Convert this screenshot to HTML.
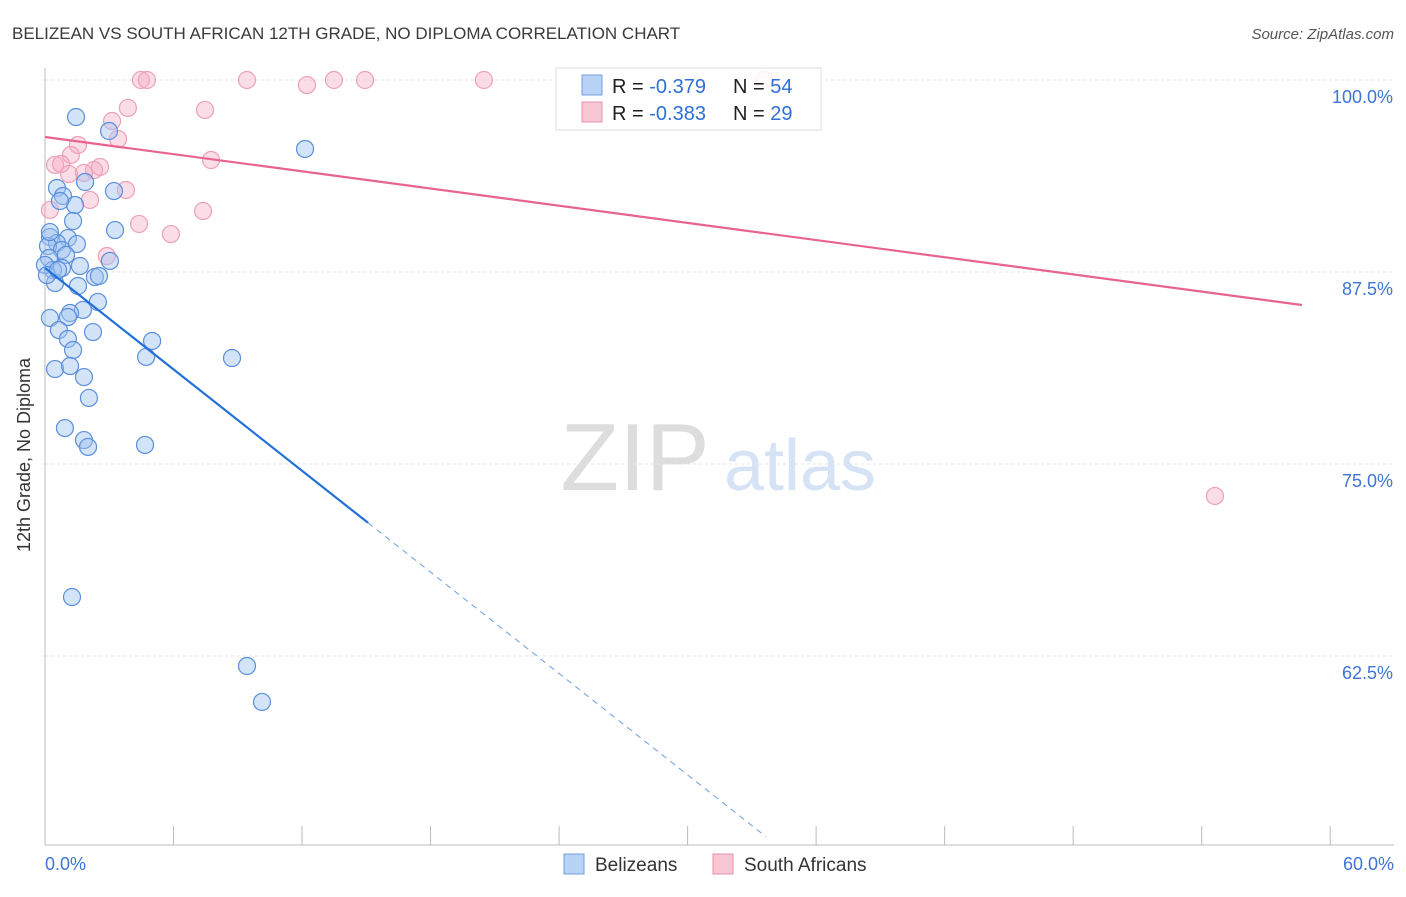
<!DOCTYPE html>
<html><head><meta charset="utf-8"><style>
body{margin:0;background:#fff;font-family:"Liberation Sans",sans-serif;}
svg text{font-family:"Liberation Sans",sans-serif;}
</style></head><body>
<svg id="chart" width="1406" height="892" xmlns="http://www.w3.org/2000/svg">
<text x="12" y="39" font-size="17" fill="#3a3a3a">BELIZEAN VS SOUTH AFRICAN 12TH GRADE, NO DIPLOMA CORRELATION CHART</text>
<text x="1394" y="39" font-size="15" fill="#555" font-style="italic" text-anchor="end">Source: ZipAtlas.com</text>
<text x="30" y="455" font-size="18" fill="#333" text-anchor="middle" transform="rotate(-90 30 455)">12th Grade, No Diploma</text>
<g>
<text x="635" y="490" font-size="96" fill="#ddd" font-family="Liberation Serif" text-anchor="middle">ZIP</text>
<text x="800" y="490" font-size="72" fill="#d6e3f5" text-anchor="middle">atlas</text>
</g>
<g id="grid"></g><g id="axes"></g><g id="pts"></g><g id="lines"></g>
<g>
<rect x="556" y="68" width="265" height="62" fill="rgba(255,255,255,0.85)" stroke="#ddd"/>
<rect x="582" y="75" width="20" height="20" fill="#b8d3f5" stroke="#6f9fe0"/>
<text x="612" y="93" font-size="20" fill="#222">R = <tspan fill="#2f6fd6">-0.379</tspan></text>
<text x="733" y="93" font-size="20" fill="#222">N = <tspan fill="#2f6fd6">54</tspan></text>
<rect x="582" y="102" width="20" height="20" fill="#f9c6d4" stroke="#ec8fab"/>
<text x="612" y="120" font-size="20" fill="#222">R = <tspan fill="#2f6fd6">-0.383</tspan></text>
<text x="733" y="120" font-size="20" fill="#222">N = <tspan fill="#2f6fd6">29</tspan></text>
</g>
<g>
<rect x="564" y="854" width="20" height="20" fill="#b8d3f5" stroke="#6f9fe0"/>
<text x="595" y="871" font-size="19" fill="#333">Belizeans</text>
<rect x="713" y="854" width="20" height="20" fill="#f9c6d4" stroke="#ec8fab"/>
<text x="744" y="871" font-size="19" fill="#333">South Africans</text>
</g>
</svg>
<script>
const blueX=[1.45,2.99,12.14,0.56,1.87,3.22,0.84,1.40,0.70,1.31,3.27,0.23,1.07,1.49,0.56,0.14,0.79,0.98,0.19,3.03,1.63,0.79,0.37,2.33,2.52,0.47,1.54,2.47,1.77,1.17,1.07,0.23,0.65,2.24,5.00,1.07,1.31,4.72,8.73,0.47,1.17,1.82,2.05,0.93,1.82,2.01,4.67,1.26,9.43,10.13,0.00,0.09,0.23,0.61];
const blueY=[97.59,96.68,95.51,92.97,93.36,92.77,92.45,91.86,92.12,90.82,90.23,89.78,89.71,89.32,89.39,89.19,88.93,88.61,88.41,88.22,87.89,87.76,87.63,87.17,87.24,86.78,86.59,85.55,85.03,84.83,84.57,84.51,83.72,83.59,83.01,83.14,82.42,81.97,81.90,81.18,81.38,80.66,79.30,77.34,76.56,76.11,76.24,66.34,61.85,59.51,87.96,87.30,90.10,87.63];
const pinkX=[4.48,4.76,9.43,13.49,14.94,20.49,12.23,33.57,3.87,7.47,3.13,3.41,1.54,1.21,0.47,0.75,7.75,2.57,2.29,1.12,1.82,3.78,2.10,7.38,4.39,5.88,2.89,54.62,0.23];
const pinkY=[100,100,100,100,100,100,99.67,100,98.18,98.05,97.33,96.16,95.77,95.12,94.47,94.53,94.79,94.34,94.14,93.88,93.95,92.84,92.19,91.47,90.63,89.97,88.54,72.92,91.54];
const yTicks=[100,87.5,75,62.5];
const yTickLabels=["100.0%","87.5%","75.0%","62.5%"];
const xTickLabels=["0.0%","60.0%"];
const blueTrend=[87.76,-1.10];
const pinkTrend=[96.29,-0.1864];
const X=v=>45+v*21.42, Y=v=>80+(100-v)*15.36;
const NS="http://www.w3.org/2000/svg";
function mk(p,t,a){const e=document.createElementNS(NS,t);for(const k in a)e.setAttribute(k,a[k]);document.getElementById(p).appendChild(e);return e;}
yTicks.forEach((t,i)=>{
 const g=mk('grid','line',{x1:45,x2:1394,y1:Y(t),y2:Y(t),stroke:'#e6e6e6','stroke-dasharray':'3 3'});
 
 
 const l=mk('axes','text',{x:1393,y:Y(t)+23,'font-size':18,fill:'#3d74d6','text-anchor':'end'});l.textContent=yTickLabels[i];
 
 
});
let ax=mk('axes','line',{x1:45,x2:45,y1:68,y2:845,stroke:'#bbb'});


ax=mk('axes','line',{x1:45,x2:1394,y1:845,y2:845,stroke:'#bbb'});


for(let i=0;i<=10;i++){const x=X(i*6);const t=mk('axes','line',{x1:x,x2:x,y1:826,y2:845,stroke:'#bbb'});
 
 }
[[0,'start',45],[60,'end',1394]].forEach((d,i)=>{const t=mk('axes','text',{x:d[2],y:870,'font-size':18,fill:'#3d74d6','text-anchor':d[1]});t.textContent=xTickLabels[i];
 
 });
pinkX.forEach((x,i)=>{const c=mk('pts','circle',{cx:X(x),cy:Y(pinkY[i]),r:8.5,fill:'rgba(245,170,195,0.4)',stroke:'#eea0b8','stroke-width':1.2});
 
 });
blueX.forEach((x,i)=>{const c=mk('pts','circle',{cx:X(x),cy:Y(blueY[i]),r:8.5,fill:'rgba(160,195,240,0.45)',stroke:'#5a8fdc','stroke-width':1.2});
 
 });
const bx1=15.08,bx2=33.65;
let ln=mk('lines','line',{x1:X(0),y1:Y(blueTrend[0]),x2:X(bx1),y2:Y(blueTrend[0]+blueTrend[1]*bx1),stroke:'#2370d9','stroke-width':2.2});


ln=mk('lines','line',{x1:X(bx1),y1:Y(blueTrend[0]+blueTrend[1]*bx1),x2:X(bx2),y2:Y(blueTrend[0]+blueTrend[1]*bx2),stroke:'#6f9fe0','stroke-width':1,'stroke-dasharray':'6 5'});


ln=mk('lines','line',{x1:X(0),y1:Y(pinkTrend[0]),x2:X(58.68),y2:Y(pinkTrend[0]+pinkTrend[1]*58.68),stroke:'#e8648f','stroke-width':2.2});


</script>
</body></html>
